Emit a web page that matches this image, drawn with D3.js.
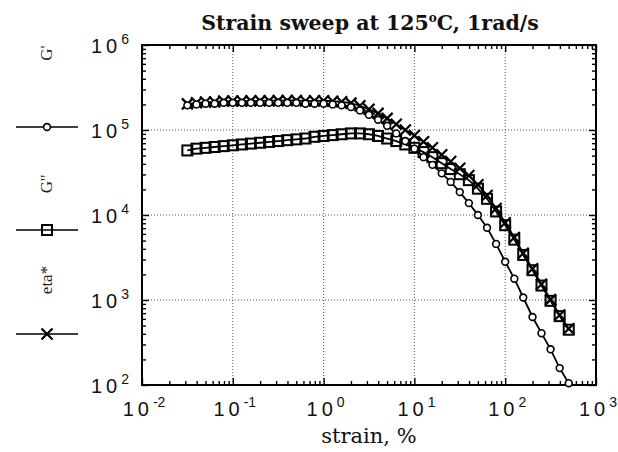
<!DOCTYPE html>
<html>
<head>
<meta charset="utf-8">
<script src="https://d3js.org/d3.v7.min.js"></script>
<style>
  body { margin: 0; background: #fff; }
  .tick-label { font-family: "Liberation Sans", Arial, sans-serif; font-size: 20px; fill: #111; }
  .serif { font-family: "DejaVu Serif", "Liberation Serif", serif; fill: #111; }
  .legend-label { font-family: "Liberation Serif", "Times New Roman", serif; fill: #222; }
</style>
</head>
<body>
<div id="chart"></div>
<script>
// strain sweep data (10 points per decade)
const strain = [0.0316, 0.0398, 0.0501, 0.0631, 0.0794, 0.1, 0.126, 0.158, 0.2, 0.251,
  0.316, 0.398, 0.501, 0.631, 0.794, 1.0, 1.26, 1.58, 2.0, 2.51,
  3.16, 3.98, 5.01, 6.31, 7.94, 10, 12.6, 15.8, 20, 25.1,
  31.6, 39.8, 50.1, 63.1, 79.4, 100, 126, 158, 200, 251,
  316, 398, 501];
const gPrime = [195000, 200000, 204000, 204000, 209000, 209000, 209000, 209000, 209000, 209000,
  209000, 209000, 209000, 204000, 204000, 204000, 200000, 195000, 186000, 170000,
  151000, 132000, 112000, 91200, 74100, 60300, 47900, 38900, 30900, 24500,
  18600, 13800, 10000, 7080, 4570, 2820, 1780, 1070, 631, 407,
  263, 158, 105];
const gDouble = [57500, 60300, 61700, 63100, 64600, 66100, 67600, 69200, 70800, 72400,
  74100, 75900, 77600, 79400, 83200, 85100, 87100, 89100, 91200, 91200,
  89100, 85100, 79400, 74100, 67600, 61700, 55000, 47900, 40700, 34700,
  30200, 25700, 20400, 15500, 11000, 7590, 5130, 3390, 2240, 1480,
  977, 646, 447];
const etaStar = [203000, 209000, 213000, 213500, 218800, 219200, 219700, 220200, 220700, 221200,
  221700, 222400, 222900, 218900, 220300, 221000, 218000, 214400, 207200, 192900,
  175000, 157000, 137000, 117000, 100000, 86000, 72900, 61700, 51100, 42500,
  35500, 29200, 22700, 17000, 11900, 8100, 5430, 3550, 2330, 1530,
  1010, 665, 459];

const xMajor = [0.01, 0.1, 1, 10, 100, 1000];
const xExp = ["-2", "-1", "0", "1", "2", "3"];
const yMajor = [100, 1000, 10000, 100000, 1000000];
const yExp = ["2", "3", "4", "5", "6"];

var width = 618, height = 452;
var margin = {top: 45, right: 22, bottom: 67, left: 142};
var w = width - margin.left - margin.right,
    h = height - margin.top - margin.bottom;

var svg = d3.select("#chart").append("svg")
  .attr("width", width)
  .attr("height", height);

var x = d3.scaleLog().domain([0.01, 1000]).range([margin.left, margin.left + w]);
var y = d3.scaleLog().domain([100, 1e6]).range([margin.top + h, margin.top]);

// dotted grid at the decades
svg.append("g").selectAll("line")
  .data(xMajor.slice(1, -1))
  .join("line")
  .attr("x1", d => x(d)).attr("x2", d => x(d))
  .attr("y1", margin.top).attr("y2", margin.top + h)
  .attr("stroke", "#555").attr("stroke-width", 1).attr("stroke-dasharray", "1,2");
svg.append("g").selectAll("line")
  .data(yMajor.slice(1, -1))
  .join("line")
  .attr("y1", d => y(d)).attr("y2", d => y(d))
  .attr("x1", margin.left).attr("x2", margin.left + w)
  .attr("stroke", "#555").attr("stroke-width", 1).attr("stroke-dasharray", "1,2");

// ticks, all pointing inward
var xMinor = x.ticks().filter(d => xMajor.indexOf(d) < 0);
var yMinor = y.ticks().filter(d => yMajor.indexOf(d) < 0);

function tickAxis(axisFn, scale, vals, size, tx, ty) {
  var g = svg.append("g")
    .attr("transform", "translate(" + tx + "," + ty + ")")
    .call(axisFn(scale).tickValues(vals).tickSize(-size).tickFormat(""));
  g.select(".domain").remove();
  g.selectAll(".tick line").attr("stroke", "#000").attr("stroke-width", 1.4);
}
tickAxis(d3.axisBottom, x, xMinor, 4, 0, margin.top + h);
tickAxis(d3.axisBottom, x, xMajor, 7, 0, margin.top + h);
tickAxis(d3.axisTop, x, xMinor, 4, 0, margin.top);
tickAxis(d3.axisTop, x, xMajor, 7, 0, margin.top);
tickAxis(d3.axisLeft, y, yMinor, 4, margin.left, 0);
tickAxis(d3.axisLeft, y, yMajor, 7, margin.left, 0);
tickAxis(d3.axisRight, y, yMinor, 4, margin.left + w, 0);
tickAxis(d3.axisRight, y, yMajor, 7, margin.left + w, 0);

svg.append("rect")
  .attr("x", margin.left).attr("y", margin.top)
  .attr("width", w).attr("height", h)
  .attr("fill", "none").attr("stroke", "#000").attr("stroke-width", 2);

// tick labels: 10 with superscript
function powLabel(sel, exp) {
  sel.append("tspan").attr("letter-spacing", "4px").text("10");
  sel.append("tspan").attr("dy", -9).attr("font-size", "14px").text(exp);
}
xMajor.forEach(function (v, i) {
  var t = svg.append("text").attr("class", "tick-label")
    .attr("x", x(v) + 2).attr("y", 416).attr("text-anchor", "middle");
  powLabel(t, xExp[i]);
});
yMajor.forEach(function (v, i) {
  var t = svg.append("text").attr("class", "tick-label")
    .attr("x", 129).attr("y", y(v) + 8).attr("text-anchor", "end");
  powLabel(t, yExp[i]);
});

// titles
var title = svg.append("text").attr("class", "serif")
  .attr("x", 370).attr("y", 30).attr("text-anchor", "middle")
  .attr("font-size", "20.5px").attr("font-weight", "bold");
title.append("tspan").text("Strain sweep at 125");
title.append("tspan").attr("dy", -8).attr("font-size", "12px").text("o");
title.append("tspan").attr("dy", 8).text("C, 1rad/s");

svg.append("text").attr("class", "serif")
  .attr("x", 369).attr("y", 443).attr("text-anchor", "middle")
  .attr("font-size", "21px").text("strain, %");

// markers
var line = d3.line().x(d => x(d[0])).y(d => y(d[1]));

function drawCircle(g, cx, cy) {
  g.append("circle").attr("cx", cx).attr("cy", cy).attr("r", 3.4)
    .attr("fill", "#fff").attr("stroke", "#000").attr("stroke-width", 1.6);
}
function drawSquare(g, cx, cy) {
  g.append("rect").attr("x", cx - 5).attr("y", cy - 5).attr("width", 10).attr("height", 10)
    .attr("fill", "none").attr("stroke", "#000").attr("stroke-width", 2);
}
function drawCross(g, cx, cy) {
  g.append("path")
    .attr("d", "M" + (cx - 5.5) + "," + (cy - 5.5) + "L" + (cx + 5.5) + "," + (cy + 5.5) +
      "M" + (cx - 5.5) + "," + (cy + 5.5) + "L" + (cx + 5.5) + "," + (cy - 5.5))
    .attr("stroke", "#000").attr("stroke-width", 2.2);
}

var series = [
  {vals: gDouble, mark: drawSquare},
  {vals: etaStar, mark: drawCross},
  {vals: gPrime, mark: drawCircle}
];
var plot = svg.append("g");
series.forEach(function (s) {
  var pts = strain.map((d, i) => [d, s.vals[i]]);
  plot.append("path").datum(pts).attr("d", line)
    .attr("fill", "none").attr("stroke", "#000").attr("stroke-width", 1.8);
  var mg = plot.append("g");
  pts.forEach(p => s.mark(mg, x(p[0]), y(p[1])));
});

// legend on the left: rotated names with a line sample below
var legend = [
  {name: "G'", ty: 53, ly: 127, mark: drawCircle},
  {name: "G''", ty: 184, ly: 230, mark: drawSquare},
  {name: "eta*", ty: 280, ly: 334, mark: drawCross}
];
legend.forEach(function (d) {
  svg.append("text").attr("class", "legend-label")
    .attr("transform", "translate(52," + d.ty + ") rotate(-90)")
    .attr("text-anchor", "middle").attr("font-size", "17px").text(d.name);
  svg.append("line").attr("x1", 16).attr("x2", 78).attr("y1", d.ly).attr("y2", d.ly)
    .attr("stroke", "#000").attr("stroke-width", 1.6);
  var g = svg.append("g");
  d.mark(g, 47, d.ly);
});
</script>
</body>
</html>
